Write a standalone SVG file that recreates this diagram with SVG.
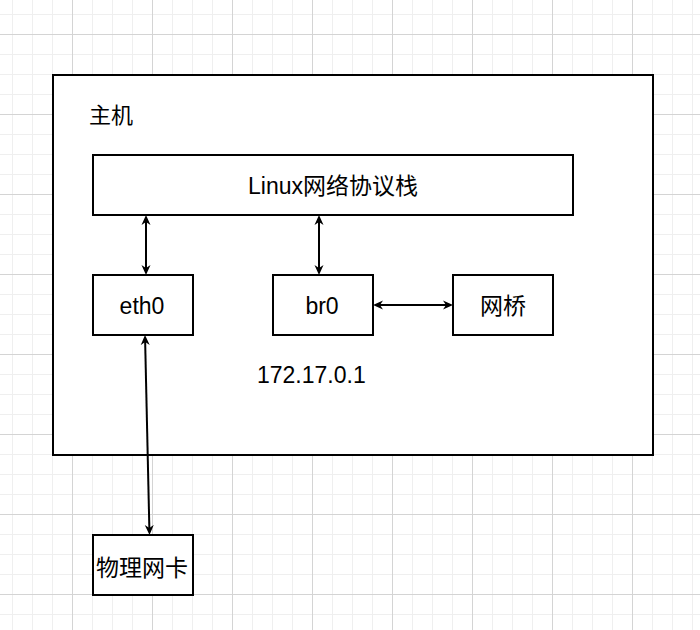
<svg xmlns="http://www.w3.org/2000/svg" width="700" height="630" viewBox="0 0 700 630">
  <defs>
    <pattern id="grid" x="72" y="34" width="80" height="80" patternUnits="userSpaceOnUse">
      <rect width="80" height="80" fill="#ffffff"/>
      <g fill="#efefef">
        <rect x="20" y="0" width="1" height="80"/>
        <rect x="40" y="0" width="1" height="80"/>
        <rect x="60" y="0" width="1" height="80"/>
        <rect x="0" y="20" width="80" height="1"/>
        <rect x="0" y="40" width="80" height="1"/>
        <rect x="0" y="60" width="80" height="1"/>
      </g>
      <g fill="#d4d4d4">
        <rect x="0" y="0" width="1" height="80"/>
        <rect x="0" y="0" width="80" height="1"/>
      </g>
    </pattern>
    <marker id="arrow" viewBox="0 0 10 10" markerUnits="userSpaceOnUse" markerWidth="10" markerHeight="10" refX="7" refY="5" orient="auto-start-reverse">
      <path d="M0,0.5 L10,5 L0,9.5 L3,5 Z" fill="#000000"/>
    </marker>
  </defs>
  <style>
    .box { fill: #ffffff; stroke: #000000; stroke-width: 2; }
    .t { font-family: "Liberation Sans", "Noto Sans CJK SC", sans-serif; font-size: 23px; fill: #000000; }
    .c { text-anchor: middle; }
    .conn { stroke: #000000; stroke-width: 2; fill: none; marker-start: url(#arrow); marker-end: url(#arrow); }
  </style>
  <rect x="0" y="0" width="700" height="630" fill="url(#grid)"/>

  <g id="host">
    <rect class="box" x="53" y="75" width="600" height="380"/>
    <text class="t" x="89" y="123" style="font-size:22px">主机</text>
  </g>

  <g id="stack">
    <rect class="box" x="93" y="155" width="480" height="60"/>
    <text class="t c" x="333" y="194">Linux网络协议栈</text>
  </g>

  <g id="eth0">
    <rect class="box" x="93" y="275" width="100" height="60"/>
    <text class="t c" x="142" y="314">eth0</text>
  </g>

  <g id="br0">
    <rect class="box" x="273" y="275" width="100" height="60"/>
    <text class="t c" x="322" y="314">br0</text>
  </g>

  <g id="bridge">
    <rect class="box" x="453" y="275" width="100" height="60"/>
    <text class="t c" x="503" y="314">网桥</text>
  </g>

  <g id="ip-label">
    <text class="t" x="257" y="383">172.17.0.1</text>
  </g>

  <g id="nic">
    <rect class="box" x="93" y="535" width="100" height="60"/>
    <text class="t c" x="142" y="576">物理网卡</text>
  </g>

  <g id="connectors">
    <line class="conn" x1="146" y1="218" x2="146" y2="272"/>
    <line class="conn" x1="319" y1="218" x2="319" y2="272"/>
    <line class="conn" x1="376" y1="305" x2="450" y2="305"/>
    <line class="conn" x1="145.07" y1="338" x2="149.43" y2="532"/>
  </g>
</svg>
